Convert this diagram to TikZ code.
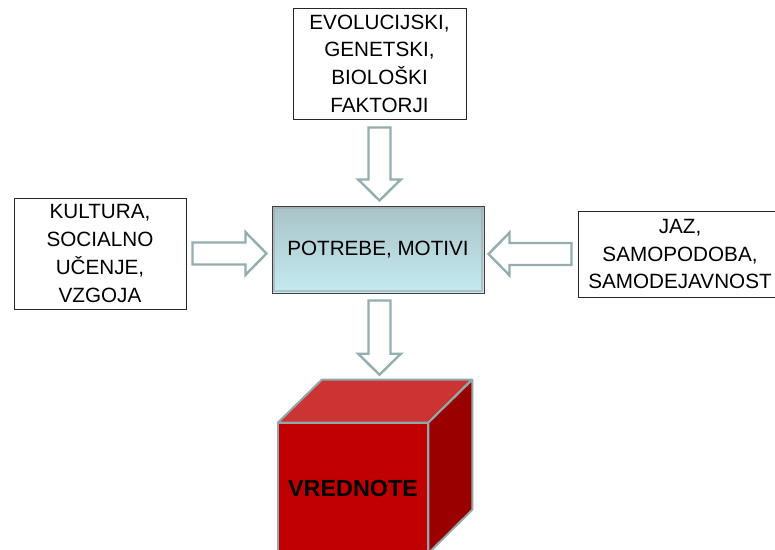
\documentclass[tikz,border=0pt]{standalone}
\usepackage{fontspec}
\setmainfont{Liberation Sans}
\usetikzlibrary{calc,positioning}

\definecolor{arrowgray}{HTML}{94AEB0}
\definecolor{boxtop}{HTML}{A9C3C7}
\definecolor{boxbottom}{HTML}{C3EBF1}
\definecolor{cubefront}{HTML}{C00000}
\definecolor{cubetop}{HTML}{CC3333}
\definecolor{cubeside}{HTML}{9A0000}
\definecolor{cubeedge}{HTML}{8FA9AB}

% hollow block arrow from #1 to #2
\newcommand{\blockarrow}[2]{%
  \draw[Hollow] let \p1=#1, \p2=#2,
      \n1={atan2(\y2-\y1,\x2-\x1)}, \n2={veclen(\x2-\x1,\y2-\y1)} in
    [shift={(\p1)}, rotate=\n1]
    (0pt,-8.25pt) -- ({\n2-15.75pt},-8.25pt) -- ({\n2-15.75pt},-16pt)
    -- (\n2,0pt) -- ({\n2-15.75pt},16pt) -- ({\n2-15.75pt},8.25pt)
    -- (0pt,8.25pt) -- cycle;}

\begin{document}
\begin{tikzpicture}[x=0.75pt,y=-0.75pt]
		\tikzstyle{Box}    = [draw=black!85, line width=0.75pt, fill=white, align=center, inner sep=0pt,
		                      font=\fontsize{15.5}{20.8}\selectfont]
		\tikzstyle{Center} = [draw=black!75, line width=0.75pt, top color=boxtop, bottom color=boxbottom,
		                      inner sep=0pt, font=\fontsize{15.5}{20.8}\selectfont]
		\tikzstyle{Hollow} = [draw=arrowgray, line width=1.8pt, fill=white, line join=miter]
		\tikzstyle{Edge}   = [draw=cubeedge, line width=1.5pt, line join=round]

		\useasboundingbox (0,0) rectangle (775,550);

		\node (evo)  at (379.5, 63.5) [Box, minimum width=129.75pt, minimum height=83.25pt]
			{EVOLUCIJSKI,\\GENETSKI,\\BIOLOŠKI\\FAKTORJI};
		\node (kult) at (100, 253.5)  [Box, minimum width=129pt, minimum height=83.25pt]
			{KULTURA,\\SOCIALNO\\UČENJE,\\VZGOJA};
		\node (jaz)  at (680, 254)    [Box, minimum width=153pt, minimum height=64.5pt]
			{JAZ,\\SAMOPODOBA,\\SAMODEJAVNOST};
		\node (potr) at (378, 249.5)  [Center, minimum width=159pt, minimum height=65.25pt]
			{POTREBE, MOTIVI};
		\draw [draw=black!35, opacity=0.6, line width=1.5pt]
			([xshift=2pt,yshift=-2pt]potr.north west) rectangle ([xshift=-2pt,yshift=2pt]potr.south east);

		% cube
		\node (vred) at (353, 488) [fill=cubefront, minimum width=112.5pt, minimum height=97.5pt, inner sep=0pt,
			font=\fontsize{17.5}{20}\selectfont\bfseries] {VREDNOTE};
		\filldraw [Edge, fill=cubetop] (vred.north west) -- ++(44,-43) -- ++(150,0) -- (vred.north east) -- cycle;
		\filldraw [Edge, fill=cubeside] (vred.north east) -- ++(44,-43) -- ++(0,130) -- (vred.south east) -- cycle;
		\draw [Edge] (vred.south west) rectangle (vred.north east);

		\blockarrow{([yshift=-6pt]evo.south)}{([yshift=3.75pt]evo.south |- potr.north)}
		\blockarrow{([xshift=4.5pt]kult.east)}{([xshift=-3.75pt]potr.west |- kult.east)}
		\blockarrow{([xshift=-4.5pt]jaz.west)}{([xshift=3pt]potr.east |- jaz.west)}
		\blockarrow{([yshift=-5.25pt]evo.south |- potr.south)}{([yshift=36pt]evo.south |- vred.north)}
	\end{tikzpicture}
\end{document}
